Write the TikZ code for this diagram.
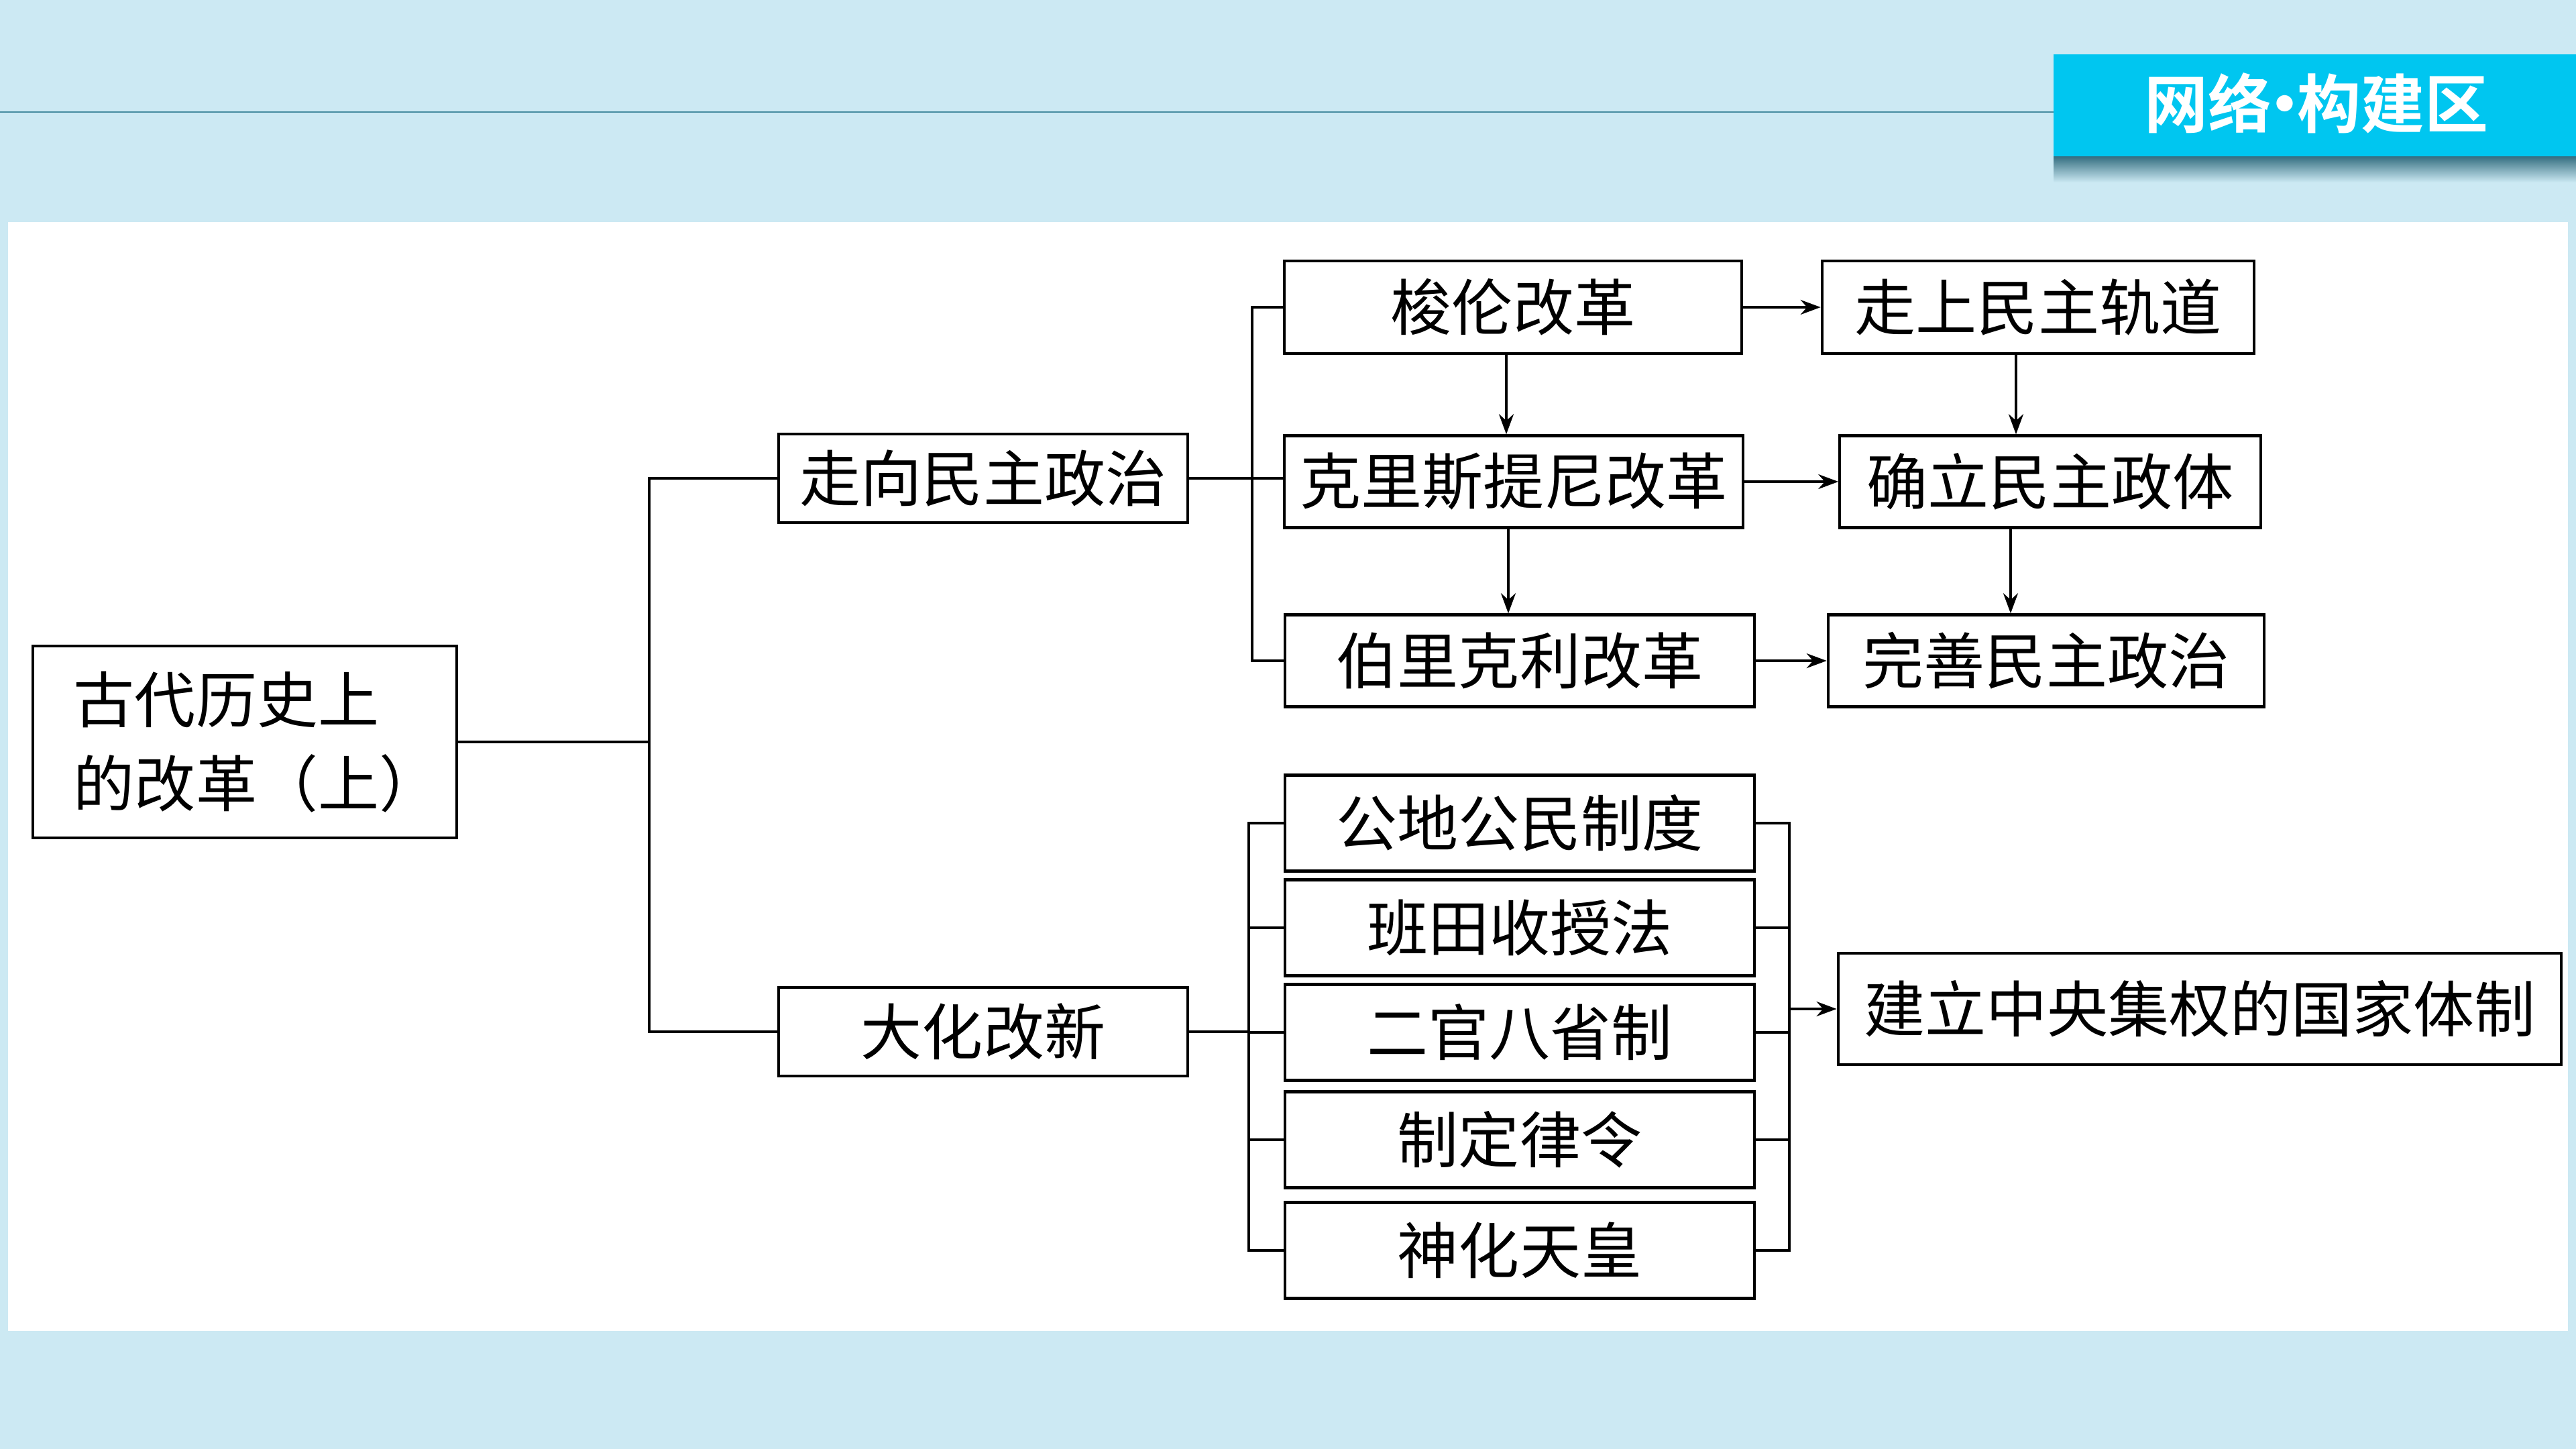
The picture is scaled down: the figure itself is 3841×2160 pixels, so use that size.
\documentclass[tikz,border=0pt]{standalone}
\usepackage{fontspec}
\usepackage{tikz}
\usepackage{xcolor}
\usetikzlibrary{
	arrows.meta,
	positioning,
	calc
}
\newfontfamily\cjk{Noto Sans CJK SC}
\newfontfamily\cjkbold{Noto Sans CJK SC Bold}

\definecolor{bgblue}{RGB}{204,233,243}
\definecolor{bannercyan}{RGB}{0,198,240}
\definecolor{shadowteal}{RGB}{52,110,128}
\definecolor{topline}{RGB}{70,140,160}

\begin{document}
\begin{tikzpicture}[
            x=0.01cm, y=-0.01cm,
            box/.style={
                draw,
                fill=white,
                line width=1.2pt,
                align=center,
                inner sep=0pt,
                minimum height=1.38cm,
                font=\cjk\fontsize{25.9}{35.6}\selectfont
            },
            sub/.style={box,minimum width=7.00cm,minimum height=1.43cm},
            link/.style={line width=1.2pt},
            arr/.style={-{Stealth[length=0.3cm,width=0.22cm]},line width=1pt}
        ]
            \useasboundingbox (0,0) rectangle (3841,2160);
            % background and title bar
            \fill[bgblue] (0,0) rectangle (3841,2160);
            \fill[white] (12,331) rectangle (3829,1984);
            \draw[topline,line width=0.7pt] (0,167) -- (3062,167);
            \shade[top color=shadowteal,bottom color=bgblue] (3062,233) rectangle (3841,272);
            \fill[bannercyan] (3062,81) rectangle (3841,233);
            \node[text=white,font=\cjkbold\fontsize{27}{30}\selectfont] (title) at (3454,154)
            {网络\kern-0.3em·\kern-0.3em构建区};

            % root and first level
            \node[box,minimum width=6.32cm,minimum height=2.86cm,text width=5.1cm,align=left] (root) at (365,1106)
            {古代历史上\\的改革（上）};
            \node[box,minimum width=6.10cm,minimum height=1.32cm] (zouxiang) at (1466,713) {走向民主政治};
            \node[box,minimum width=6.10cm,minimum height=1.32cm] (dahua) at (1466,1538) {大化改新};

            % Athens
            \node[box,minimum width=6.81cm] (solon) at (2256,458) {梭伦改革};
            \node[box,minimum width=6.44cm] (zoushang) at (3039,458) {走上民主轨道};
            \node[box,minimum width=6.83cm,minimum height=1.37cm] (cleis) at (2257,718) {克里斯提尼改革};
            \node[box,minimum width=6.27cm,minimum height=1.37cm] (queli) at (3057,718) {确立民主政体};
            \node[box,minimum width=7.00cm,minimum height=1.37cm] (pericles) at (2266,985) {伯里克利改革};
            \node[box,minimum width=6.50cm,minimum height=1.37cm] (wanshan) at (3051,985) {完善民主政治};

            % Taika
            \node[sub] (gongdi) at (2266,1227) {公地公民制度};
            \node[sub] (bantian) at (2266,1383) {班田收授法};
            \node[sub] (erguan) at (2266,1539) {二官八省制};
            \node[sub] (lvling) at (2266,1699) {制定律令};
            \node[sub] (shenhua) at (2266,1864) {神化天皇};
            \node[box,minimum width=10.78cm,minimum height=1.66cm] (jianli) at (3280,1504)
            {建立中央集权的国家体制};

            \coordinate (trunk) at (968,1105);
            \coordinate (gbar) at (1867,0);
            \coordinate (jbar) at (1862,0);
            \coordinate (rbar) at (2668,0);

            \draw[link] (root.east) -- (root.east -| trunk);
            \draw[link] (zouxiang.west) -- (zouxiang.west -| trunk) |- (dahua.west);

            \draw[link] (zouxiang.east) -- (zouxiang.east -| cleis.west);
            \draw[link] (solon.west) -- (solon.west -| gbar) |- (pericles.west);
            \draw[arr] (solon.east) -- (solon.east -| zoushang.west);
            \draw[arr] (cleis.east) -- (cleis.east -| queli.west);
            \draw[arr] (pericles.east) -- (pericles.east -| wanshan.west);
            \draw[arr] ([xshift=-0.1cm]solon.south) -- ([xshift=-0.1cm]solon.south |- cleis.north);
            \draw[arr] ([xshift=-0.08cm]cleis.south) -- ([xshift=-0.08cm]cleis.south |- pericles.north);
            \draw[arr] ([xshift=-0.33cm]zoushang.south) -- ([xshift=-0.33cm]zoushang.south |- queli.north);
            \draw[arr] ([xshift=-0.59cm]queli.south) -- ([xshift=-0.59cm]queli.south |- wanshan.north);

            \draw[link] (dahua.east) -- (dahua.east -| jbar);
            \draw[link] (gongdi.west) -- (gongdi.west -| jbar) |- (shenhua.west);
            \draw[link] (gongdi.east) -- (gongdi.east -| rbar) |- (shenhua.east);
            \foreach \n in {bantian,erguan,lvling} {
                \draw[link] (\n.west) -- (\n.west -| jbar);
                \draw[link] (\n.east) -- (\n.east -| rbar);
            }
            \draw[arr] (rbar |- jianli.west) -- (jianli.west);
        \end{tikzpicture}
\end{document}
